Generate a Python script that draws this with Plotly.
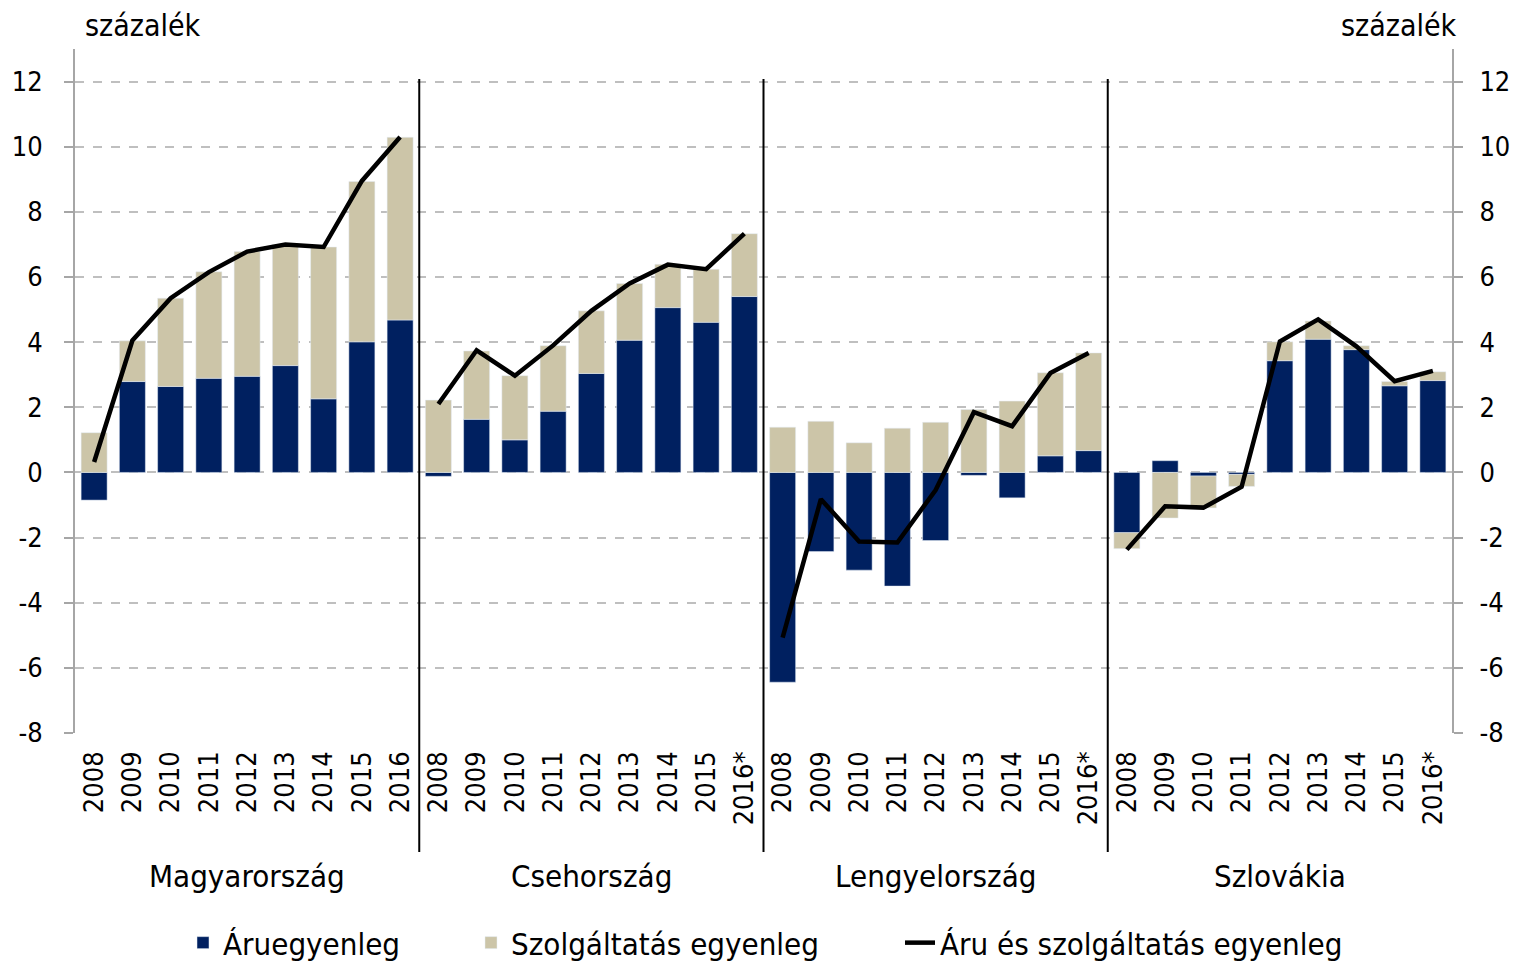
import plotly.graph_objects as go

countries = ["Magyarország", "Csehország", "Lengyelország", "Szlovákia"]
years = {
    "Magyarország": ["2008", "2009", "2010", "2011", "2012", "2013", "2014", "2015", "2016"],
    "Csehország": ["2008", "2009", "2010", "2011", "2012", "2013", "2014", "2015", "2016*"],
    "Lengyelország": ["2008", "2009", "2010", "2011", "2012", "2013", "2014", "2015", "2016*"],
    "Szlovákia": ["2008", "2009", "2010", "2011", "2012", "2013", "2014", "2015", "2016*"],
}

# Áruegyenleg (goods balance), % of GDP
goods = {
    "Magyarország": [-0.85, 2.79, 2.64, 2.89, 2.95, 3.28, 2.26, 4.01, 4.68],
    "Csehország": [-0.12, 1.63, 1.0, 1.88, 3.04, 4.06, 5.06, 4.61, 5.4],
    "Lengyelország": [-6.44, -2.43, -3.0, -3.49, -2.09, -0.09, -0.78, 0.51, 0.67],
    "Szlovákia": [-1.85, 0.36, -0.11, -0.06, 3.43, 4.09, 3.77, 2.66, 2.82],
}
# Szolgáltatás egyenleg (services balance)
services = {
    "Magyarország": [1.22, 1.25, 2.71, 3.27, 3.83, 3.72, 4.66, 4.92, 5.61],
    "Csehország": [2.22, 2.1, 1.97, 2.01, 1.92, 1.74, 1.33, 1.63, 1.93],
    "Lengyelország": [1.39, 1.57, 0.91, 1.36, 1.54, 1.93, 2.19, 2.55, 3.0],
    "Szlovákia": [-0.49, -1.4, -0.98, -0.37, 0.58, 0.56, 0.12, 0.13, 0.27],
}
# Áru és szolgáltatás egyenleg (total)
total = {
    "Magyarország": [0.32, 4.05, 5.35, 6.15, 6.78, 7.0, 6.92, 8.95, 10.3],
    "Csehország": [2.1, 3.75, 2.97, 3.9, 4.96, 5.8, 6.38, 6.24, 7.33],
    "Lengyelország": [-5.07, -0.82, -2.12, -2.15, -0.54, 1.85, 1.42, 3.05, 3.67],
    "Szlovákia": [-2.37, -1.04, -1.08, -0.44, 4.02, 4.7, 3.87, 2.8, 3.12],
}

y_ticks = [-8, -6, -4, -2, 0, 2, 4, 6, 8, 10, 12]
y_tick_text = ["-8", "-6", "-4", "-2", "0", "2", "4", "6", "8", "10", "12"]

NAVY = "#002060"
BEIGE = "#CCC5A8"
FONT = "DejaVu Sans Condensed, DejaVu Sans, sans-serif"

bar_x, tick_text, goods_y, services_y = [], [], [], []
line_x, line_y = [], []
group_centers, separators = [], []
pos = 0
for country in countries:
    n = len(years[country])
    xs = list(range(pos, pos + n))
    bar_x += xs
    tick_text += years[country]
    goods_y += goods[country]
    services_y += services[country]
    line_x += xs + [None]
    line_y += total[country] + [None]
    group_centers.append((xs[0] + xs[-1]) / 2)
    if pos > 0:
        separators.append(pos - 0.5)
    pos += n

fig = go.Figure()
fig.add_trace(go.Bar(x=bar_x, y=goods_y, name="Áruegyenleg", marker_color=NAVY, legend="legend"))
fig.add_trace(
    go.Bar(x=bar_x, y=services_y, name="Szolgáltatás egyenleg", marker_color=BEIGE, legend="legend2")
)
fig.add_trace(
    go.Scatter(
        x=line_x,
        y=line_y,
        mode="lines",
        name="Áru és szolgáltatás egyenleg",
        line={"color": "black", "width": 4.5},
        connectgaps=False,
        yaxis="y2",
        legend="legend3",
    )
)

axis_common = {
    "range": [-8, 13],
    "tickvals": y_ticks,
    "ticktext": y_tick_text,
    "showline": True,
    "linecolor": "#A6A6A6",
    "linewidth": 2,
    "ticks": "outside",
    "ticklen": 9,
    "tickcolor": "#A6A6A6",
    "tickwidth": 2,
    "zeroline": False,
    "tickfont": {"size": 27, "color": "black", "family": FONT},
}

legend_common = {"orientation": "h", "y": -0.307, "yanchor": "middle", "xanchor": "left",
                 "font": {"size": 31}, "bgcolor": "rgba(0,0,0,0)", "borderwidth": 0}

fig.update_layout(
    width=1518,
    height=967,
    barmode="relative",
    bargap=0.32,
    plot_bgcolor="white",
    paper_bgcolor="white",
    font={"family": FONT, "color": "black", "size": 27},
    margin={"l": 75, "r": 66, "t": 49, "b": 234, "autoexpand": False},
    xaxis={
        "range": [-0.5, pos - 0.5],
        "tickvals": bar_x,
        "ticktext": tick_text,
        "tickangle": -90,
        "ticklabelstandoff": 12,
        "showgrid": False,
        "zeroline": False,
        "showline": False,
        "ticks": "",
        "tickfont": {"size": 27, "color": "black", "family": FONT},
    },
    yaxis={
        **axis_common,
        "ticklabelstandoff": 16,
        "showgrid": True,
        "gridcolor": "#BFBFBF",
        "gridwidth": 2,
        "griddash": "dash",
    },
    yaxis2={**axis_common, "overlaying": "y", "side": "right", "showgrid": False,
            "ticklabelstandoff": 11},
    legend={**legend_common, "x": (183 - 75) / 1377},
    legend2={**legend_common, "x": (471 - 75) / 1377},
    legend3={**legend_common, "x": (900 - 75) / 1377},
    showlegend=True,
)

for sx in separators:
    fig.add_shape(
        type="line",
        xref="x",
        yref="paper",
        x0=sx,
        x1=sx,
        y0=-0.174,
        y1=0.956,
        line={"color": "black", "width": 2},
    )

for country, cx in zip(countries, group_centers):
    fig.add_annotation(
        x=cx, y=-0.209, xref="x", yref="paper", text=country,
        showarrow=False, font={"size": 31}, yanchor="middle",
    )

fig.add_annotation(
    x=0.006, y=1.035, xref="paper", yref="paper", text="százalék",
    showarrow=False, xanchor="left", yanchor="middle", font={"size": 30},
)
fig.add_annotation(
    x=1.005, y=1.035, xref="paper", yref="paper", text="százalék",
    showarrow=False, xanchor="right", yanchor="middle", font={"size": 30},
)

# drop the browser's default body margin so the figure sits at the page origin
fig.write_html(
    "out.html",
    config={"displayModeBar": False},
    post_script="document.body.style.margin = '0';",
)
